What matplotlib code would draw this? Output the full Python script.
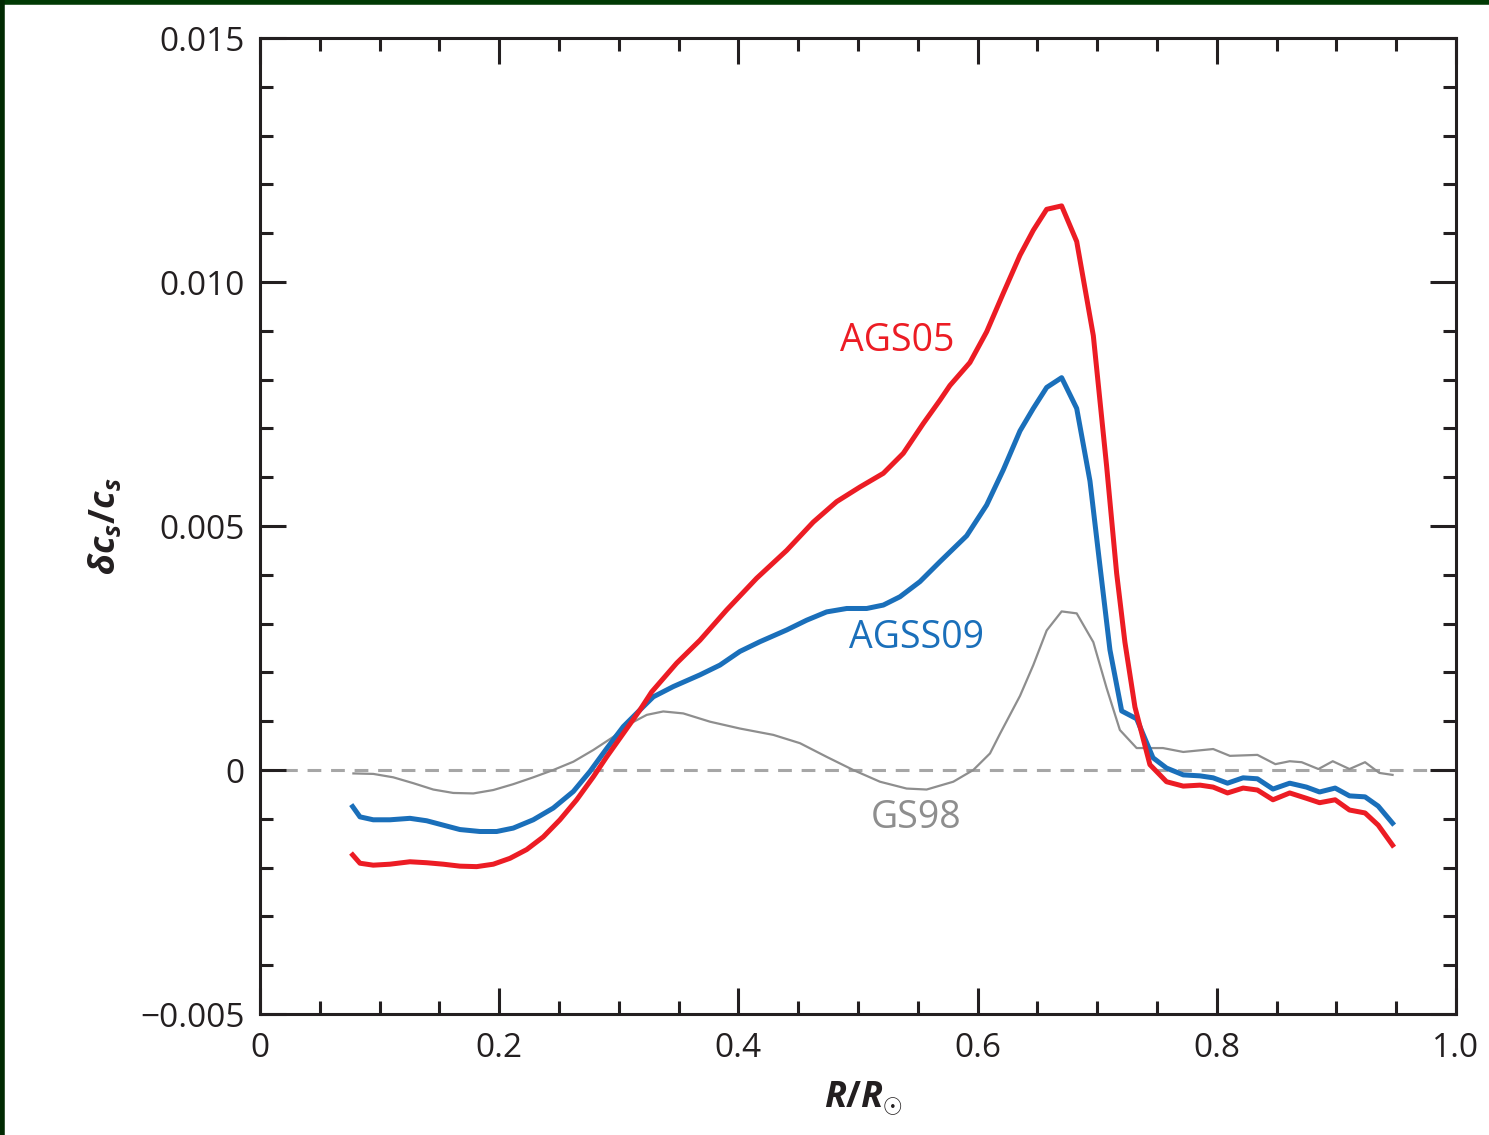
import numpy as np
import matplotlib.pyplot as plt
from matplotlib.ticker import MultipleLocator, FixedLocator

plt.rcParams['font.family'] = ['Open Sans', 'DejaVu Sans']
plt.rcParams['mathtext.fontset'] = 'custom'
plt.rcParams['mathtext.it'] = 'Open Sans:bold:italic'
plt.rcParams['mathtext.rm'] = 'Open Sans:bold'

# AGS05 (red)
ags05_x = [0.0775, 0.0836, 0.0947, 0.1087, 0.1254, 0.1394, 0.1533, 0.1672, 0.1812, 0.1951,
           0.2090, 0.2230, 0.2369, 0.2508, 0.2648, 0.2787, 0.2899, 0.3038, 0.3177, 0.3275,
           0.3484, 0.3679, 0.3902, 0.4153, 0.4404, 0.4626, 0.4822, 0.5017, 0.5212, 0.5379,
           0.5546, 0.5686, 0.5769, 0.5936, 0.6076, 0.6215, 0.6355, 0.6466, 0.6578, 0.6703,
           0.6829, 0.6968, 0.7079, 0.7163, 0.7232, 0.7316, 0.7441, 0.758, 0.772, 0.786,
           0.797, 0.809, 0.822, 0.834, 0.847, 0.861, 0.875, 0.886, 0.899, 0.911, 0.924,
           0.935, 0.947]
ags05_y = [-0.00174, -0.00191, -0.00195, -0.00193, -0.00188, -0.00190, -0.00193, -0.00197,
           -0.00198, -0.00193, -0.00181, -0.00163, -0.00137, -0.00102, -0.00061, -0.00014,
           0.00027, 0.00075, 0.00123, 0.00160, 0.00219, 0.00266, 0.00328, 0.00393, 0.00450,
           0.00508, 0.00550, 0.00580, 0.00608, 0.00649, 0.00710, 0.00758, 0.00788, 0.00835,
           0.00898, 0.00977, 0.01055, 0.01106, 0.01149, 0.01156, 0.01083, 0.00890, 0.00623,
           0.00403, 0.00262, 0.00129, 0.00011, -0.00024, -0.00033, -0.00031, -0.00035,
           -0.00047, -0.00037, -0.00041, -0.00061, -0.00047, -0.00058, -0.00067, -0.00061,
           -0.00082, -0.00088, -0.00113, -0.00154]

# AGSS09 (blue)
agss09_x = [0.0775, 0.0836, 0.0947, 0.1087, 0.1254, 0.1394, 0.1533, 0.1672, 0.1839, 0.1979,
            0.2118, 0.2285, 0.2452, 0.2620, 0.2759, 0.2899, 0.3038, 0.3177, 0.3289, 0.3456,
            0.3679, 0.3846, 0.4013, 0.4181, 0.4404, 0.4571, 0.4738, 0.4906, 0.5073, 0.5212,
            0.5351, 0.5518, 0.5686, 0.5909, 0.6076, 0.6215, 0.6355, 0.6466, 0.6578, 0.6703,
            0.6829, 0.6940, 0.7023, 0.7107, 0.7205, 0.7330, 0.7467, 0.758, 0.772, 0.786,
            0.797, 0.809, 0.822, 0.834, 0.847, 0.861, 0.875, 0.886, 0.899, 0.911, 0.924,
            0.935, 0.947]
agss09_y = [-0.00075, -0.00096, -0.00102, -0.00102, -0.00099, -0.00104, -0.00113, -0.00122,
            -0.00126, -0.00126, -0.00119, -0.00102, -0.00078, -0.00044, -0.00003, 0.00044,
            0.00089, 0.00123, 0.00150, 0.00171, 0.00195, 0.00215, 0.00243, 0.00263, 0.00287,
            0.00307, 0.00324, 0.00331, 0.00331, 0.00338, 0.00355, 0.00386, 0.00427, 0.00480,
            0.00543, 0.00615, 0.00695, 0.00741, 0.00784, 0.00804, 0.00741, 0.00592, 0.00419,
            0.00246, 0.00121, 0.00105, 0.00025, 0.00004, -0.00010, -0.00012, -0.00016,
            -0.00027, -0.00016, -0.00018, -0.00039, -0.00027, -0.00035, -0.00045, -0.00037,
            -0.00053, -0.00055, -0.00074, -0.00109]

# GS98 (gray)
gs98_x = [0.0781, 0.0948, 0.1115, 0.1282, 0.1449, 0.1616, 0.1784, 0.1951, 0.2118, 0.2285,
          0.2452, 0.2620, 0.2787, 0.2955, 0.3094, 0.3234, 0.3372, 0.3539, 0.3763, 0.4013,
          0.4292, 0.4515, 0.4738, 0.4961, 0.5184, 0.5407, 0.5574, 0.5797, 0.5964, 0.6104,
          0.6187, 0.6355, 0.6466, 0.6578, 0.6703, 0.6829, 0.6968, 0.7079, 0.7190, 0.7330,
          0.755, 0.772, 0.797, 0.811, 0.834, 0.849, 0.861, 0.871, 0.885, 0.897, 0.911,
          0.924, 0.936, 0.947]
gs98_y = [-0.00007, -0.00008, -0.00015, -0.00027, -0.00040, -0.00047, -0.00048, -0.00041,
          -0.00029, -0.00015, 0.0, 0.00017, 0.00041, 0.00068, 0.00095, 0.00113, 0.00120,
          0.00116, 0.00099, 0.00085, 0.00072, 0.00055, 0.00027, 0.0, -0.00024, -0.00038,
          -0.00040, -0.00024, 0.0, 0.00034, 0.00074, 0.00152, 0.00215, 0.00286, 0.00325,
          0.00321, 0.00262, 0.00168, 0.00082, 0.00045, 0.00045, 0.00037, 0.00043, 0.00029,
          0.00031, 0.00012, 0.00018, 0.00016, 0.00002, 0.00018, 0.00002, 0.00016, -0.00006,
          -0.00010]

xticks = [0, 0.2, 0.4, 0.6, 0.8, 1.0]
xtick_labels = ['0', '0.2', '0.4', '0.6', '0.8', '1.0']
yticks = [-0.005, 0, 0.005, 0.010, 0.015]
ytick_labels = ['\u22120.005', '0', '0.005', '0.010', '0.015']

red = '#ec1c24'
blue = '#1a6fba'
gray = '#8e8e8e'
ink = '#231f20'

fig = plt.figure(figsize=(14.89, 11.35), dpi=100)
ax = fig.add_axes([0.1746, 0.1066, 0.8032, 0.8599])

ax.axhline(0, color='#a6a6a6', lw=2.2, ls=(0, (4.5, 3.2)), zorder=1)
ax.plot(gs98_x, gs98_y, color=gray, lw=1.6, zorder=2)
ax.plot(agss09_x, agss09_y, color=blue, lw=3.6, zorder=3, solid_joinstyle='round')
ax.plot(ags05_x, ags05_y, color=red, lw=3.6, zorder=4, solid_joinstyle='round')

ax.text(0.533, 0.0088, 'AGS05', color=red, fontsize=27, ha='center', va='center')
ax.text(0.549, 0.0027, 'AGSS09', color=blue, fontsize=27, ha='center', va='center')
ax.text(0.549, -0.00098, 'GS98', color=gray, fontsize=27, ha='center', va='center')

ax.set_xlim(0, 1.0)
ax.set_ylim(-0.005, 0.015)
ax.xaxis.set_major_locator(FixedLocator(xticks))
ax.set_xticklabels(xtick_labels)
ax.xaxis.set_minor_locator(MultipleLocator(0.05))
ax.yaxis.set_major_locator(FixedLocator(yticks))
ax.set_yticklabels(ytick_labels)
ax.yaxis.set_minor_locator(MultipleLocator(0.001))

ax.tick_params(which='both', direction='in', top=True, right=True, width=2.2,
               colors=ink, labelsize=24, labelcolor=ink)
ax.tick_params(which='major', length=19)
ax.tick_params(axis='x', which='major', pad=13)
ax.tick_params(axis='y', which='major', pad=11)
ax.tick_params(which='minor', length=9.5)
for s in ax.spines.values():
    s.set_linewidth(2.2)
    s.set_color(ink)

ax.set_xlabel(r'$R/R_{\odot}$', fontsize=26, color=ink)
ax.set_ylabel(r'$\delta c_s/c_s$', fontsize=26, color=ink)
ax.xaxis.set_label_coords(0.505, -0.067)
ax.yaxis.label.set_va('center')
ax.yaxis.set_label_coords(-0.129, 0.5)

# dark green frame on top and left edges
fig.add_artist(plt.Line2D([0, 1], [0.998, 0.998], transform=fig.transFigure,
                          color='#013a04', lw=4))
fig.add_artist(plt.Line2D([0.0015, 0.0015], [0, 1], transform=fig.transFigure,
                          color='#012a02', lw=4))

fig.savefig('out.png', dpi=100, facecolor='white')
